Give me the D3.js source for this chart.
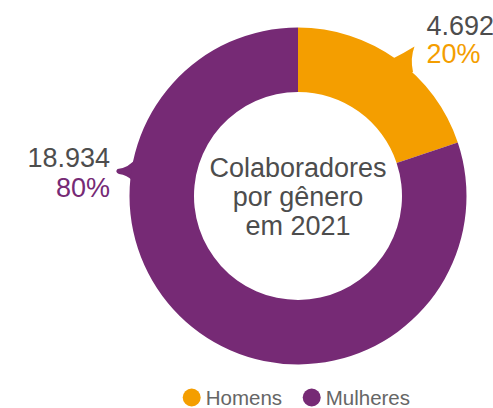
<!DOCTYPE html>
<html>
<head>
<meta charset="utf-8">
<script src="https://cdn.jsdelivr.net/npm/d3@7"></script>
<style>
html,body{margin:0;padding:0;background:#fff;}
svg{display:block;font-family:"Liberation Sans",Arial,Helvetica,sans-serif;}
</style>
</head>
<body>
<svg id="chart" width="493" height="408"></svg>
<script>
const categories = ["Homens", "Mulheres"];
const values = [4692, 18934];
const valueLabels = ["4.692", "18.934"];
const percentLabels = ["20%", "80%"];
const colors = ["#F49E00", "#762A75"];
const centerLines = ["Colaboradores", "por gênero", "em 2021"];

const svg = d3.select("#chart");
const cx = 298, cy = 196, rOuter = 168.5, rInner = 104;
const g = svg.append("g").attr("transform", `translate(${cx},${cy})`);

const pie = d3.pie().sort(null).value(d => d)(values);
const arc = d3.arc().innerRadius(rInner).outerRadius(rOuter);

// callout tails
const tails = [
  "M94,-137 Q106,-143 116.5,-149.5 Q112,-138 115,-124 L100,-118 Z",
  "M-161,-39 Q-169,-28 -180.5,-27 Q-183.5,-24 -179,-22 Q-171,-21 -165,-15 L-150,-26 Z"
];
g.selectAll("path.tail").data(tails).join("path")
  .attr("class", "tail")
  .attr("d", d => d)
  .attr("fill", (d, i) => colors[i]);

g.selectAll("path.slice").data(pie).join("path")
  .attr("class", "slice")
  .attr("d", arc)
  .attr("fill", (d, i) => colors[i]);

// center text
g.selectAll("text.center").data(centerLines).join("text")
  .attr("class", "center")
  .attr("x", 0)
  .attr("y", (d, i) => -19 + i * 29)
  .attr("text-anchor", "middle")
  .attr("font-size", 27)
  .attr("fill", "#4d4d4d")
  .text(d => d);

// value labels
const labelPos = [
  {x: 426.5, y: 35, anchor: "start", gap: 28},
  {x: 110, y: 167, anchor: "end", gap: 30}
];
labelPos.forEach((p, i) => {
  svg.append("text").attr("x", p.x).attr("y", p.y)
    .attr("text-anchor", p.anchor).attr("font-size", 27)
    .attr("fill", "#4d4d4d").text(valueLabels[i]);
  svg.append("text").attr("x", p.x).attr("y", p.y + p.gap)
    .attr("text-anchor", p.anchor).attr("font-size", 27)
    .attr("fill", colors[i]).text(percentLabels[i]);
});

// legend
const legendX = [191.7, 311.7];
const leg = svg.selectAll("g.leg").data(categories).join("g")
  .attr("class", "leg")
  .attr("transform", (d, i) => `translate(${legendX[i]},397.5)`);
leg.append("circle").attr("r", 9).attr("fill", (d, i) => colors[i]);
leg.append("text").attr("x", 14).attr("y", 7.5)
  .attr("font-size", 20.5).attr("fill", "#666")
  .text(d => d);
</script>
</body>
</html>
